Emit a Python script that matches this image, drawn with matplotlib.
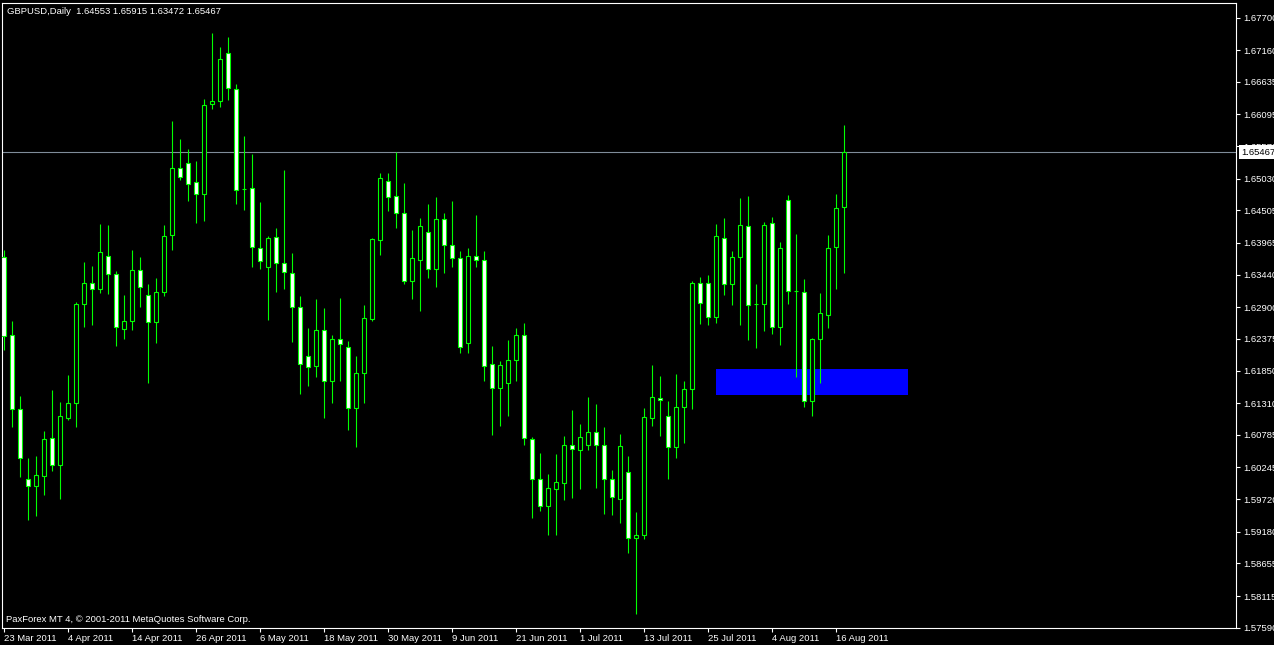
import numpy as np
import matplotlib
matplotlib.use("Agg")
import matplotlib.pyplot as plt
import matplotlib.transforms as mtransforms
from matplotlib.patches import Rectangle

plt.rcParams.update({
    "font.family": ["Liberation Sans", "DejaVu Sans"],
    "font.size": 6.8,
})

# ── GBPUSD daily bars, 23 Mar 2011 .. 17 Aug 2011 ─────────────────────────────
opens = [
    1.6373, 1.6244, 1.6121, 1.6005, 1.5993, 1.6010, 1.6073, 1.6028, 1.6107, 1.6132,
    1.6295, 1.6330, 1.6321, 1.6375, 1.6345, 1.6254, 1.6268, 1.6351, 1.6310, 1.6265,
    1.6315, 1.6409, 1.6520, 1.6529, 1.6497, 1.6478, 1.6626, 1.6631, 1.6711, 1.6651,
    1.6486, 1.6487, 1.6388, 1.6356, 1.6406, 1.6363, 1.6346, 1.6290, 1.6210, 1.6192,
    1.6252, 1.6167, 1.6237, 1.6224, 1.6123, 1.6181, 1.6271, 1.6401, 1.6499, 1.6474,
    1.6446, 1.6333, 1.6369, 1.6414, 1.6353, 1.6436, 1.6393, 1.6371, 1.6230, 1.6375,
    1.6369, 1.6196, 1.6157, 1.6164, 1.6202, 1.6244, 1.6071, 1.6005, 1.5961, 1.5989,
    1.5999, 1.6061, 1.6053, 1.6061, 1.6083, 1.6061, 1.6005, 1.5973, 1.6017, 1.5907,
    1.5912, 1.6106, 1.6139, 1.6109, 1.6058, 1.6124, 1.6154, 1.6330, 1.6331, 1.6274,
    1.6404, 1.6329, 1.6373, 1.6424, 1.6296, 1.6296, 1.6430, 1.6257, 1.6467, 1.6317,
    1.6316, 1.6134, 1.6237, 1.6277, 1.6390, 1.64553,
]
highs = [
    1.6385, 1.6267, 1.6143, 1.6040, 1.6044, 1.6085, 1.6153, 1.6133, 1.6178, 1.6299,
    1.6365, 1.6358, 1.6428, 1.6426, 1.6350, 1.6310, 1.6385, 1.6373, 1.6329, 1.6338,
    1.6426, 1.6599, 1.6569, 1.6552, 1.6532, 1.6635, 1.6744, 1.6721, 1.6738, 1.6660,
    1.6574, 1.6544, 1.6464, 1.6408, 1.6421, 1.6517, 1.6380, 1.6309, 1.6256, 1.6304,
    1.6289, 1.6244, 1.6305, 1.6234, 1.6209, 1.6294, 1.6405, 1.6512, 1.6512, 1.6547,
    1.6496, 1.6418, 1.6438, 1.6461, 1.6473, 1.6446, 1.6466, 1.6383, 1.6389, 1.6443,
    1.6383, 1.6226, 1.6201, 1.6236, 1.6256, 1.6264, 1.6075, 1.6048, 1.6014, 1.6047,
    1.6077, 1.6120, 1.6097, 1.6141, 1.6130, 1.6092, 1.6020, 1.6080, 1.6044, 1.5951,
    1.6123, 1.6194, 1.6176, 1.6135, 1.6179, 1.6168, 1.6334, 1.6340, 1.6343, 1.6428,
    1.6438, 1.6383, 1.6471, 1.6474, 1.6329, 1.6431, 1.6440, 1.6398, 1.6476, 1.6411,
    1.6337, 1.6239, 1.6314, 1.6410, 1.6478, 1.65915,
]
lows = [
    1.6219, 1.6092, 1.6009, 1.5937, 1.5944, 1.5979, 1.6018, 1.5972, 1.6103, 1.6092,
    1.6257, 1.6261, 1.6314, 1.6312, 1.6226, 1.6238, 1.6253, 1.6291, 1.6165, 1.6230,
    1.6308, 1.6385, 1.6501, 1.6466, 1.6430, 1.6433, 1.6619, 1.6622, 1.6633, 1.6461,
    1.6451, 1.6357, 1.6353, 1.6269, 1.6316, 1.6321, 1.6233, 1.6147, 1.6160, 1.6174,
    1.6106, 1.6132, 1.6167, 1.6087, 1.6059, 1.6132, 1.6268, 1.6377, 1.6450, 1.6422,
    1.6329, 1.6304, 1.6284, 1.6339, 1.6324, 1.6347, 1.6357, 1.6215, 1.6215, 1.6356,
    1.6168, 1.6079, 1.6094, 1.6110, 1.6167, 1.6061, 1.5940, 1.5953, 1.5913, 1.5913,
    1.5971, 1.5974, 1.5989, 1.6054, 1.5991, 1.5948, 1.5945, 1.5933, 1.5883, 1.5782,
    1.5906, 1.6094, 1.6077, 1.6006, 1.6041, 1.6065, 1.6122, 1.6263, 1.6261, 1.6264,
    1.6311, 1.6293, 1.6260, 1.6236, 1.6223, 1.6250, 1.6245, 1.6228, 1.6296, 1.6175,
    1.6124, 1.6110, 1.6165, 1.6255, 1.6321, 1.63472,
]
closes = [
    1.6242, 1.6121, 1.6041, 1.5993, 1.6012, 1.6071, 1.6028, 1.6109, 1.6132, 1.6295,
    1.6330, 1.6321, 1.6381, 1.6345, 1.6257, 1.6268, 1.6351, 1.6323, 1.6265, 1.6315,
    1.6408, 1.6520, 1.6506, 1.6495, 1.6478, 1.6625, 1.6631, 1.6702, 1.6653, 1.6485,
    1.6486, 1.6390, 1.6366, 1.6404, 1.6364, 1.6348, 1.6290, 1.6196, 1.6191, 1.6252,
    1.6167, 1.6237, 1.6229, 1.6123, 1.6181, 1.6273, 1.6403, 1.6505, 1.6472, 1.6446,
    1.6333, 1.6371, 1.6424, 1.6353, 1.6437, 1.6393, 1.6371, 1.6224, 1.6375, 1.6369,
    1.6192, 1.6157, 1.6194, 1.6202, 1.6244, 1.6073, 1.6005, 1.5960, 1.5990, 1.6000,
    1.6061, 1.6055, 1.6075, 1.6083, 1.6061, 1.6005, 1.5975, 1.6060, 1.5907, 1.5912,
    1.6108, 1.6141, 1.6136, 1.6058, 1.6124, 1.6154, 1.6330, 1.6297, 1.6274, 1.6408,
    1.6329, 1.6373, 1.6426, 1.6293, 1.6296, 1.6426, 1.6257, 1.6389, 1.6317, 1.6317,
    1.6134, 1.6237, 1.6280, 1.6388, 1.6454, 1.65467,
]

date_ticks = [0, 8, 16, 24, 32, 40, 48, 56, 64, 72, 80, 88, 96, 104]
date_labels = ["23 Mar 2011", "4 Apr 2011", "14 Apr 2011", "26 Apr 2011", "6 May 2011",
               "18 May 2011", "30 May 2011", "9 Jun 2011", "21 Jun 2011", "1 Jul 2011",
               "13 Jul 2011", "25 Jul 2011", "4 Aug 2011", "16 Aug 2011"]
price_ticks = [1.67700, 1.67160, 1.66635, 1.66095, 1.65570, 1.65030, 1.64505, 1.63965,
               1.63440, 1.62900, 1.62375, 1.61850, 1.61310, 1.60785, 1.60245, 1.59720,
               1.59180, 1.58655, 1.58115, 1.57590]

# blue zone drawn on the chart (bar index start/end, price bottom/top)
zone_bars = (89, 113)
zone_prices = (1.6145, 1.6188)

GREEN = "#00ff00"
W, H = 1274, 645

o = np.array(opens); h = np.array(highs); l = np.array(lows); c = np.array(closes)
x = np.arange(len(o))
bull = c >= o

fig = plt.figure(figsize=(W / 100, H / 100), dpi=100, facecolor="black")
ax = fig.add_axes([2 / W, (H - 628) / H, 1234 / W, 625.5 / H])
ax.set_facecolor("black")

ax.add_patch(Rectangle((zone_bars[0], zone_prices[0]), zone_bars[1] - zone_bars[0],
                       zone_prices[1] - zone_prices[0], facecolor="#0000ff",
                       edgecolor="none", zorder=1))

ax.axhline(c[-1], color="#7f8c99", lw=0.8, zorder=2)

ax.vlines(x, l, h, color=GREEN, lw=0.8, zorder=3)
ax.bar(x, np.abs(c - o), bottom=np.minimum(o, c), width=0.5,
       color=np.where(bull, "black", "white"), edgecolor=GREEN, linewidth=0.8, zorder=4)

ax.set_xlim(-0.1875, 154.06)
ax.set_ylim(1.57585, 1.67950)

for sp in ax.spines.values():
    sp.set_color("white")
    sp.set_linewidth(0.8)

ax.yaxis.tick_right()
ax.set_yticks(price_ticks)
ax.set_yticklabels([f"{v:.5f}" for v in price_ticks])
ax.set_xticks(date_ticks)
ax.set_xticklabels(date_labels, ha="left")
ax.tick_params(colors="white", length=3, width=0.8, labelsize=6.8, pad=2)
ax.tick_params(axis="x", pad=1.5)

# current price box on the scale
trans = mtransforms.blended_transform_factory(ax.transAxes, ax.transData)
ax.text(1.0 + 5 / 1234, c[-1], f"{c[-1]:.5f}", transform=trans, ha="left", va="center",
        color="black", fontsize=6.8, clip_on=False, zorder=6,
        bbox=dict(boxstyle="square,pad=0.25", facecolor="white", edgecolor="none"))

fig.text(7 / W, 1 - 11 / H,
         f"GBPUSD,Daily  {o[-1]:.5f} {h[-1]:.5f} {l[-1]:.5f} {c[-1]:.5f}",
         color="white", fontsize=6.8, va="center", ha="left")
fig.text(6 / W, 1 - 619 / H, "PaxForex MT 4, © 2001-2011 MetaQuotes Software Corp.",
         color="white", fontsize=6.8, va="center", ha="left")

fig.savefig("out.png", dpi=100, facecolor="black")
